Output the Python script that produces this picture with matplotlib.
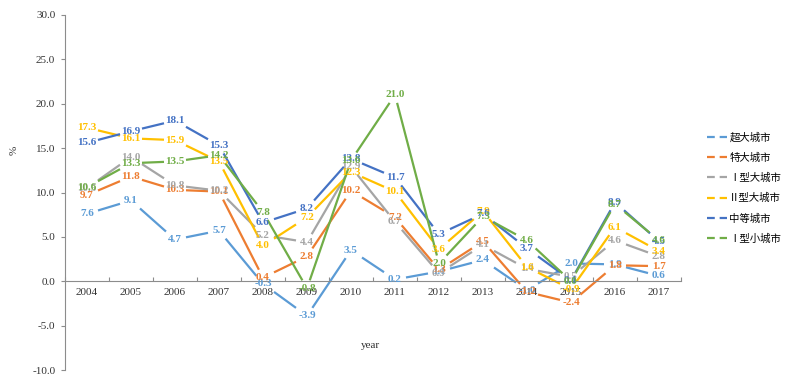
import numpy as np
import matplotlib
matplotlib.use("Agg")
import matplotlib.pyplot as plt
from matplotlib.lines import Line2D

years = ["2004", "2005", "2006", "2007", "2008", "2009", "2010",
         "2011", "2012", "2013", "2014", "2015", "2016", "2017"]
series_names = ["超大城市", "特大城市", "Ⅰ型大城市", "Ⅱ型大城市", "中等城市", "Ⅰ型小城市"]
chaoda = [7.6, 9.1, 4.7, 5.7, -0.3, -3.9, 3.5, 0.2, 1.1, 2.4, -1.0, 2.0, 1.9, 0.6]
teda = [9.7, 11.8, 10.3, 10.1, 0.4, 2.8, 10.2, 7.2, 1.3, 4.5, -1.2, -2.4, 1.8, 1.7]
da1 = [10.5, 14.0, 10.8, 10.2, 5.2, 4.4, 12.9, 6.7, 0.9, 4.1, 1.4, 0.5, 4.6, 2.8]
da2 = [17.3, 16.1, 15.9, 13.5, 4.0, 7.2, 12.3, 10.1, 3.6, 7.9, 1.6, -0.9, 6.1, 3.4]
zhongdeng = [15.6, 16.9, 18.1, 15.3, 6.6, 8.2, 13.8, 11.7, 5.3, 7.6, 3.7, 0.1, 8.9, 4.5]
xiao1 = [10.6, 13.3, 13.5, 14.2, 7.8, -0.8, 13.6, 21.0, 2.0, 7.3, 4.6, 0.0, 8.7, 4.6]
series_values = [chaoda, teda, da1, da2, zhongdeng, xiao1]
colors = ["#5B9BD5", "#ED7D31", "#A5A5A5", "#FFC000", "#4472C4", "#70AD47"]
yticks = [-10, -5, 0, 5, 10, 15, 20, 25, 30]

serif = ["Liberation Serif", "Noto Sans CJK SC", "DejaVu Sans"]
plt.rcParams["font.family"] = serif

fig = plt.figure(figsize=(8, 3.76), dpi=100)
ax = fig.add_axes([65 / 800, 1 - 370 / 376, (681 - 65) / 800, (370 - 15) / 376])
x = np.arange(len(years))
ax.set_xlim(-0.5, len(years) - 0.5)
ax.set_ylim(-10, 30)

# draw lines with gaps around data labels (as in reference)
hw, hh = 11.0, 8.0
for vals, c in zip(series_values, colors):
    pts = ax.transData.transform(np.column_stack([x, vals]))
    for i in range(len(pts) - 1):
        p0, p1 = pts[i], pts[i + 1]
        d = p1 - p0
        tx = hw / abs(d[0]) if d[0] != 0 else np.inf
        ty = hh / abs(d[1]) if d[1] != 0 else np.inf
        t = min(tx, ty)
        if 2 * t >= 1:
            continue
        a = p0 + t * d
        b = p1 - t * d
        da_ = ax.transData.inverted().transform(np.vstack([a, b]))
        ax.plot(da_[:, 0], da_[:, 1], color=c, lw=1.6, solid_capstyle="butt")

for vals, c in zip(series_values, colors):
    for xi, v in zip(x, vals):
        ax.text(xi, v, f"{v:.1f}", color=c, fontsize=8, ha="center", va="center",
                fontweight="bold", zorder=5)

# axes styling
for s in ["top", "right"]:
    ax.spines[s].set_visible(False)
ax.spines["bottom"].set_position(("data", 0))
ax.spines["bottom"].set_color("#8c8c8c")
ax.spines["left"].set_color("#8c8c8c")
ax.set_yticks(yticks)
ax.set_yticklabels([f"{v:.1f}" for v in yticks])
ax.tick_params(axis="y", direction="out", length=3, color="#8c8c8c", labelsize=8,
               labelcolor="#333333", pad=4)
ax.set_xticks(np.arange(-0.5, len(years)), minor=False)
ax.set_xticklabels([])
ax.set_xticks(x, minor=True)
ax.set_xticklabels(years, minor=True)
ax.tick_params(axis="x", which="major", direction="in", length=3, color="#8c8c8c")
ax.tick_params(axis="x", which="minor", length=0, labelsize=8, labelcolor="#333333", pad=5)

fig.text(14 / 800, 1 - 150 / 376, "%", rotation=90, fontsize=8, ha="center",
         va="center", color="#333333")
fig.text(370 / 800, 1 - 345 / 376, "year", fontsize=8, ha="center", va="center",
         color="#333333")

handles = [Line2D([0], [0], color=c, lw=1.6, linestyle=(0, (3.5, 2.2))) for c in colors]
fig.legend(handles, series_names, loc="center left", bbox_to_anchor=(698 / 800, 1 - 188 / 376),
           frameon=False, fontsize=7.5, handlelength=1.9, handletextpad=0.2,
           labelspacing=0.95, prop={"family": serif, "size": 7.5})

fig.savefig("out.png", dpi=100)
